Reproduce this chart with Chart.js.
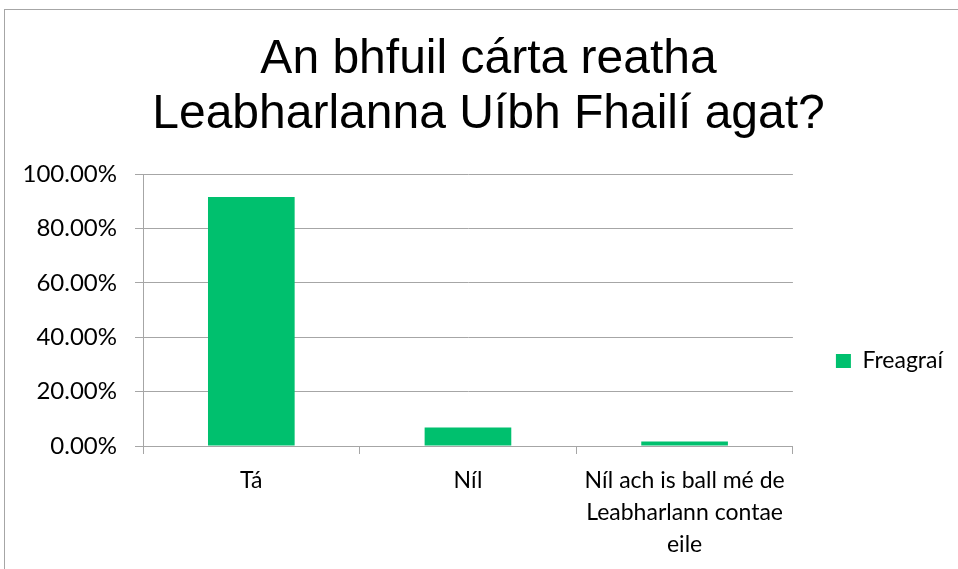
<!DOCTYPE html>
<html>
<head>
<meta charset="utf-8">
<script src="https://cdn.jsdelivr.net/npm/chart.js@4"></script>
<style>
  html, body { margin: 0; padding: 0; background: #fff; overflow: hidden; }
  #frame { position: absolute; left: 4px; top: 9px; width: 1000px; height: 600px; border: 1px solid #a6a6a6; }
  #box { position: absolute; left: 0; top: 0; width: 958px; height: 569px; }
</style>
</head>
<body>
<div id="frame"></div>
<div id="box"><canvas id="chart"></canvas></div>
<script>
// chart data
const titleLines = ['An bhfuil cárta reatha', 'Leabharlanna Uíbh Fhailí agat?'];
const categories = [['Tá'], ['Níl'], ['Níl ach is ball mé de', 'Leabharlann contae', 'eile']];
const seriesName = 'Freagraí';
const values = [91.5, 6.8, 1.7];
const yTicks = [0, 20, 40, 60, 80, 100];

const gridGrey = '#a6a6a6';
const labelFont = { family: 'Lato', size: 23 };

// move the legend down a bit, like in the original
const legendShift = {
  id: 'legendShift',
  beforeDraw(chart) {
    const l = chart.legend;
    const area = chart.chartArea;
    l.top = area.top + 51;
    l.bottom = area.bottom + 51;
  }
};

new Chart(document.getElementById('chart').getContext('2d'), {
  type: 'bar',
  data: {
    labels: categories,
    datasets: [{
      label: seriesName,
      data: values,
      backgroundColor: '#00c06e',
      borderWidth: 0,
      categoryPercentage: 1,
      barPercentage: 0.4
    }]
  },
  options: {
    responsive: true,
    maintainAspectRatio: false,
    animation: false,
    layout: { padding: { left: 24, right: 5, top: 0, bottom: 0 } },
    plugins: {
      title: {
        display: true,
        text: titleLines,
        color: '#000',
        font: { family: 'Liberation Sans', size: 48, weight: 'normal', lineHeight: 55 / 48 },
        padding: { top: 32, bottom: 32 }
      },
      legend: {
        position: 'right',
        fullSize: false,
        labels: {
          color: '#000',
          font: labelFont,
          boxWidth: 15,
          boxHeight: 14,
          padding: 43
        }
      },
      tooltip: { enabled: false }
    },
    scales: {
      x: {
        grid: { offset: true, drawOnChartArea: false, drawTicks: true, tickLength: 8, color: gridGrey },
        border: { display: true, color: gridGrey },
        ticks: { color: '#000', font: { family: 'Lato', size: 23, lineHeight: 32 / 23 }, padding: 11, maxRotation: 0, autoSkip: false },
        afterFit(scale) { scale.height = 123; }
      },
      y: {
        min: 0,
        max: 100,
        afterBuildTicks(scale) { scale.ticks = yTicks.map(v => ({ value: v })); },
        grid: { color: gridGrey, tickLength: 8 },
        border: { display: true, color: gridGrey },
        ticks: {
          color: '#000',
          font: { family: 'Lato', size: 24 },
          padding: 18,
          callback: v => v.toFixed(2) + '%'
        },
        afterFit(scale) { scale.width = 119; }
      }
    }
  },
  plugins: [legendShift]
});
</script>
</body>
</html>
